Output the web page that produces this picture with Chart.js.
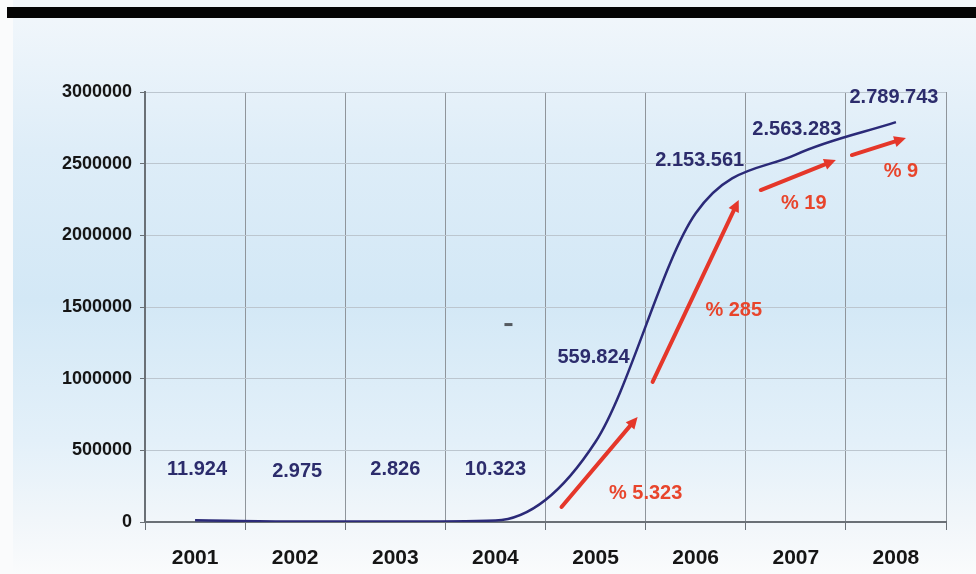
<!DOCTYPE html>
<html>
<head>
<meta charset="utf-8">
<script src="https://cdn.jsdelivr.net/npm/chart.js@4.4.1/dist/chart.umd.min.js"></script>
<style>
  html, body { margin: 0; padding: 0; }
  body { width: 976px; height: 574px; position: relative; overflow: hidden; background: #fafbfc; }
  .bg {
    position: absolute; left: 13px; top: 0; right: 0; bottom: 0;
    background: linear-gradient(to bottom, #f3f7fb 0px, #f0f6fb 20px, #deedf8 150px, #d3e8f6 300px, #e3f0f9 440px, #f1f6fa 520px, #fafbfc 574px);
  }
  .topbar { position: absolute; left: 7px; right: 0; top: 7px; height: 11px; background: #050505; }
  #wrap { position: absolute; left: 0; top: 0; width: 976px; height: 574px; }
</style>
</head>
<body>
<div class="bg"></div>
<div class="topbar"></div>
<div id="wrap"><canvas id="chart"></canvas></div>
<script>
// data
const years = ['2001', '2002', '2003', '2004', '2005', '2006', '2007', '2008'];
const values = [11924, 2975, 2826, 10323, 559824, 2153561, 2563283, 2789743];
const valueLabels = ['11.924', '2.975', '2.826', '10.323', '559.824', '2.153.561', '2.563.283', '2.789.743'];
const yTicks = [0, 500000, 1000000, 1500000, 2000000, 2500000, 3000000];

// growth arrows (in data space: category index, value)
const growthText = ['% 5.323', '% 285', '% 19', '% 9'];
const arrowFrom = [[3.66, 105000], [4.57, 977000], [5.65, 2316000], [6.56, 2560000]];
const arrowTo = [[4.42, 733000], [5.43, 2247000], [6.40, 2526000], [7.10, 2679000]];
const growthAt = [[4.5, 202000], [5.38, 1479000], [6.08, 2219000], [7.05, 2442000]];

// label offsets from the points, px
const labelOffsets = [[2, -51], [2, -50], [0, -52], [0, -51], [-2, -84], [4, -53], [1, -25], [-2, -25]];

const annotations = {
    id: 'annotations',
    afterDatasetsDraw(chart) {
        const { ctx, scales: { x, y } } = chart;
        const pts = chart.getDatasetMeta(0).data;
        ctx.save();
        ctx.textAlign = 'center';
        ctx.textBaseline = 'middle';

        // value labels
        ctx.font = 'bold 20px "Liberation Sans", Arial, sans-serif';
        ctx.fillStyle = '#2c2c6c';
        pts.forEach((p, i) => {
            ctx.fillText(valueLabels[i], p.x + labelOffsets[i][0], p.y + labelOffsets[i][1]);
        });

        // red arrows
        ctx.strokeStyle = '#e5372a';
        ctx.fillStyle = '#e5372a';
        ctx.lineWidth = 4;
        ctx.lineCap = 'round';
        arrowFrom.forEach((a, i) => {
            const x1 = x.getPixelForValue(a[0]), y1 = y.getPixelForValue(a[1]);
            const x2 = x.getPixelForValue(arrowTo[i][0]), y2 = y.getPixelForValue(arrowTo[i][1]);
            const ang = Math.atan2(y2 - y1, x2 - x1);
            const head = 13;
            ctx.beginPath();
            ctx.moveTo(x1, y1);
            ctx.lineTo(x2 - Math.cos(ang) * head * 0.8, y2 - Math.sin(ang) * head * 0.8);
            ctx.stroke();
            ctx.beginPath();
            ctx.moveTo(x2, y2);
            ctx.lineTo(x2 - head * Math.cos(ang - 0.45), y2 - head * Math.sin(ang - 0.45));
            ctx.lineTo(x2 - head * Math.cos(ang + 0.45), y2 - head * Math.sin(ang + 0.45));
            ctx.closePath();
            ctx.fill();
        });

        // growth labels
        ctx.font = 'bold 20px "Liberation Sans", Arial, sans-serif';
        ctx.fillStyle = '#e8452c';
        growthAt.forEach((g, i) => {
            ctx.fillText(growthText[i], x.getPixelForValue(g[0]), y.getPixelForValue(g[1]));
        });

        // stray dash in the original
        ctx.fillStyle = '#555a60';
        ctx.fillRect(x.getPixelForValue(3.13) - 4, y.getPixelForValue(1381000) - 1, 8, 3);
        ctx.restore();
    }
};

new Chart(document.getElementById('chart'), {
    type: 'line',
    data: {
        labels: years,
        datasets: [{
            data: values,
            borderColor: '#2b2a78',
            borderWidth: 2.5,
            cubicInterpolationMode: 'monotone',
            pointRadius: 0,
            fill: false
        }]
    },
    options: {
        responsive: true,
        maintainAspectRatio: false,
        animation: false,
        layout: { padding: { top: 92, right: 30, bottom: 0, left: 0 } },
        plugins: {
            legend: { display: false },
            tooltip: { enabled: false }
        },
        scales: {
            x: {
                offset: true,
                border: { color: '#6a7076', width: 2 },
                grid: { color: '#8f959b', offset: true, tickLength: 8, tickColor: '#6a7076' },
                ticks: {
                    color: '#151515',
                    padding: 16,
                    font: { family: '"Liberation Sans", Arial, sans-serif', size: 21, weight: 'bold' }
                },
                afterFit: s => { s.height = 52; }
            },
            y: {
                min: 0,
                max: 3000000,
                border: { color: '#6a7076', width: 2 },
                grid: { color: '#bcc6cf', tickLength: 5, tickColor: '#6a7076' },
                afterBuildTicks: s => { s.ticks = yTicks.map(v => ({ value: v })); },
                ticks: {
                    color: '#151515',
                    padding: 8,
                    font: { family: '"Liberation Sans", Arial, sans-serif', size: 18, weight: 'bold' },
                    callback: v => String(v)
                },
                afterFit: s => { s.width = 145; }
            }
        }
    },
    plugins: [annotations]
});
</script>
</body>
</html>
